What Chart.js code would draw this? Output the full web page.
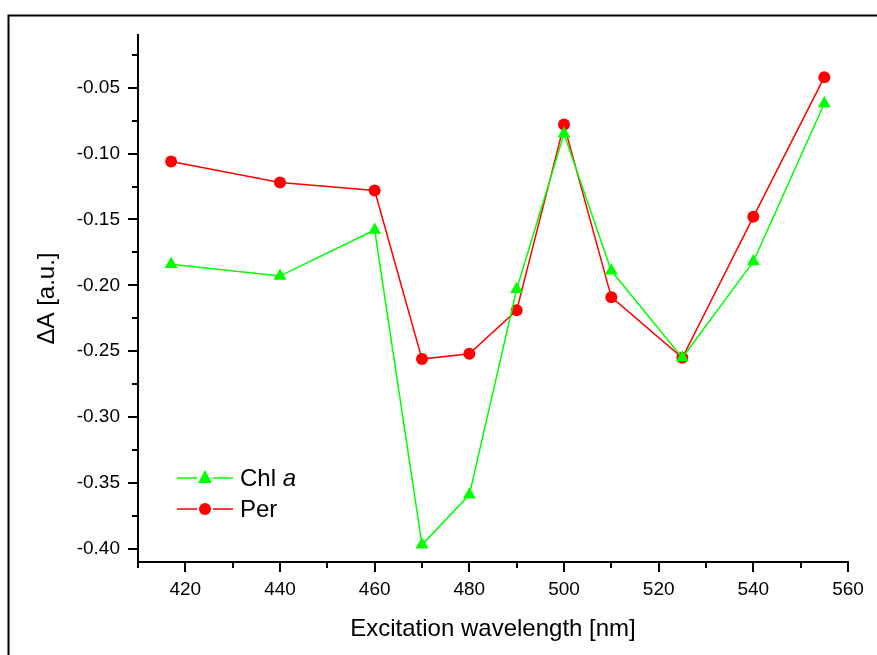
<!DOCTYPE html>
<html>
<head>
<meta charset="utf-8">
<script src="https://cdn.jsdelivr.net/npm/chart.js@4"></script>
<style>
  html, body { margin: 0; padding: 0; background: #fff; }
  #wrap { width: 877px; height: 655px; }
</style>
</head>
<body>
<div id="wrap"><canvas id="chart-canvas" width="877" height="655"></canvas></div>
<script>
// values
const wavelengths = [417, 440, 460, 470, 480, 490, 500, 510, 525, 540, 555];
const chlA = [-0.184, -0.193, -0.158, -0.397, -0.359, -0.203, -0.085, -0.189, -0.255, -0.182, -0.062];
const per = [-0.106, -0.122, -0.128, -0.256, -0.252, -0.219, -0.078, -0.209, -0.255, -0.148, -0.042];

const xMajorTicks = [420, 440, 460, 480, 500, 520, 540, 560];
const xMinorTicks = [410, 430, 450, 470, 490, 510, 530, 550];
const yMajorTicks = [-0.40, -0.35, -0.30, -0.25, -0.20, -0.15, -0.10, -0.05];
const yMinorTicks = [-0.375, -0.325, -0.275, -0.225, -0.175, -0.125, -0.075, -0.025];

const FONT = "'Liberation Sans', Arial, sans-serif";
const GREEN = "#00ff00";
const RED = "#ff0000";

function pairs(xs, ys) {
    return xs.map((x, i) => ({ x: x, y: ys[i] }));
}

// outer frame (cut off right and bottom like in the figure)
const framePlugin = {
    id: "frame",
    beforeDraw(chart) {
        const ctx = chart.ctx;
        ctx.save();
        ctx.fillStyle = "#fff";
        ctx.fillRect(0, 0, chart.width, chart.height);
        ctx.strokeStyle = "#000";
        ctx.lineWidth = 2;
        ctx.strokeRect(8.5, 15.5, 1000, 1000);
        ctx.restore();
    }
};

// outward major / minor tick marks, placed with the chart's own scales
const tickPlugin = {
    id: "originTicks",
    afterDraw(chart) {
        const ctx = chart.ctx;
        const xs = chart.scales.x, ys = chart.scales.y;
        const area = chart.chartArea;
        ctx.save();
        ctx.strokeStyle = "#000";
        ctx.lineWidth = 2;
        ctx.beginPath();
        xMajorTicks.forEach(v => { const p = Math.round(xs.getPixelForValue(v)); ctx.moveTo(p, area.bottom); ctx.lineTo(p, area.bottom + 10); });
        xMinorTicks.forEach(v => { const p = Math.round(xs.getPixelForValue(v)); ctx.moveTo(p, area.bottom); ctx.lineTo(p, area.bottom + 6); });
        yMajorTicks.forEach(v => { const p = Math.round(ys.getPixelForValue(v)); ctx.moveTo(area.left, p); ctx.lineTo(area.left - 10, p); });
        yMinorTicks.forEach(v => { const p = Math.round(ys.getPixelForValue(v)); ctx.moveTo(area.left, p); ctx.lineTo(area.left - 6, p); });
        ctx.stroke();
        ctx.restore();
    }
};

// legend inside the plot, Origin style
const legendPlugin = {
    id: "insideLegend",
    afterDraw(chart) {
        const ctx = chart.ctx;
        ctx.save();
        ctx.lineWidth = 1.5;
        // Chl a row
        let y = 478;
        ctx.strokeStyle = GREEN;
        ctx.beginPath();
        ctx.moveTo(177, y); ctx.lineTo(197, y);
        ctx.moveTo(213, y); ctx.lineTo(233, y);
        ctx.stroke();
        ctx.fillStyle = GREEN;
        ctx.beginPath();
        ctx.moveTo(205, y - 8); ctx.lineTo(212, y + 5); ctx.lineTo(198, y + 5);
        ctx.closePath();
        ctx.fill();
        ctx.fillStyle = "#000";
        ctx.textBaseline = "middle";
        ctx.font = "24px " + FONT;
        ctx.fillText("Chl ", 240, y + 1);
        const w = ctx.measureText("Chl ").width;
        ctx.font = "italic 24px " + FONT;
        ctx.fillText("a", 240 + w, y + 1);
        // Per row
        y = 509;
        ctx.strokeStyle = RED;
        ctx.beginPath();
        ctx.moveTo(177, y); ctx.lineTo(197, y);
        ctx.moveTo(213, y); ctx.lineTo(233, y);
        ctx.stroke();
        ctx.fillStyle = RED;
        ctx.beginPath();
        ctx.arc(205, y, 6, 0, Math.PI * 2);
        ctx.fill();
        ctx.fillStyle = "#000";
        ctx.font = "24px " + FONT;
        ctx.fillText("Per", 240, y + 1);
        ctx.restore();
    }
};

const ctx = document.getElementById("chart-canvas").getContext("2d");
new Chart(ctx, {
    type: "line",
    data: {
        datasets: [
            {
                label: "Chl a",
                data: pairs(wavelengths, chlA),
                borderColor: GREEN,
                backgroundColor: GREEN,
                borderWidth: 1.5,
                pointStyle: "triangle",
                pointRadius: 7.5,
                pointBorderWidth: 0,
                tension: 0
            },
            {
                label: "Per",
                data: pairs(wavelengths, per),
                borderColor: RED,
                backgroundColor: RED,
                borderWidth: 1.5,
                pointStyle: "circle",
                pointRadius: 6,
                pointBorderWidth: 0,
                tension: 0
            }
        ]
    },
    options: {
        responsive: false,
        animation: false,
        devicePixelRatio: 1,
        layout: { padding: { left: 0, top: 35, right: 29, bottom: 0 } },
        plugins: {
            legend: { display: false },
            tooltip: { enabled: false }
        },
        scales: {
            x: {
                type: "linear",
                min: 410,
                max: 560,
                afterFit(scale) { scale.height = 93; },
                afterBuildTicks(scale) { scale.ticks = xMajorTicks.map(v => ({ value: v })); },
                border: { display: true, color: "#000", width: 2 },
                grid: { display: true, drawOnChartArea: false, drawTicks: true, tickLength: 10, tickColor: "rgba(0,0,0,0)" },
                ticks: {
                    color: "#000",
                    font: { family: FONT, size: 19 },
                    padding: 6,
                    maxRotation: 0,
                    callback: v => String(v)
                },
                title: {
                    display: true,
                    text: "Excitation wavelength [nm]",
                    color: "#000",
                    font: { family: FONT, size: 24 },
                    padding: { top: 0, bottom: 11 }
                }
            },
            y: {
                type: "linear",
                min: -0.41,
                max: -0.01,
                afterFit(scale) { scale.width = 138; },
                afterBuildTicks(scale) { scale.ticks = yMajorTicks.map(v => ({ value: v })); },
                border: { display: true, color: "#000", width: 2 },
                grid: { display: true, drawOnChartArea: false, drawTicks: true, tickLength: 10, tickColor: "rgba(0,0,0,0)" },
                ticks: {
                    color: "#000",
                    font: { family: FONT, size: 19 },
                    padding: 8,
                    callback: v => v.toFixed(2)
                },
                title: {
                    display: true,
                    text: "\u0394A [a.u.]",
                    color: "#000",
                    font: { family: FONT, size: 24 },
                    padding: { top: 33, bottom: 0 }
                }
            }
        }
    },
    plugins: [framePlugin, tickPlugin, legendPlugin]
});
</script>
</body>
</html>
